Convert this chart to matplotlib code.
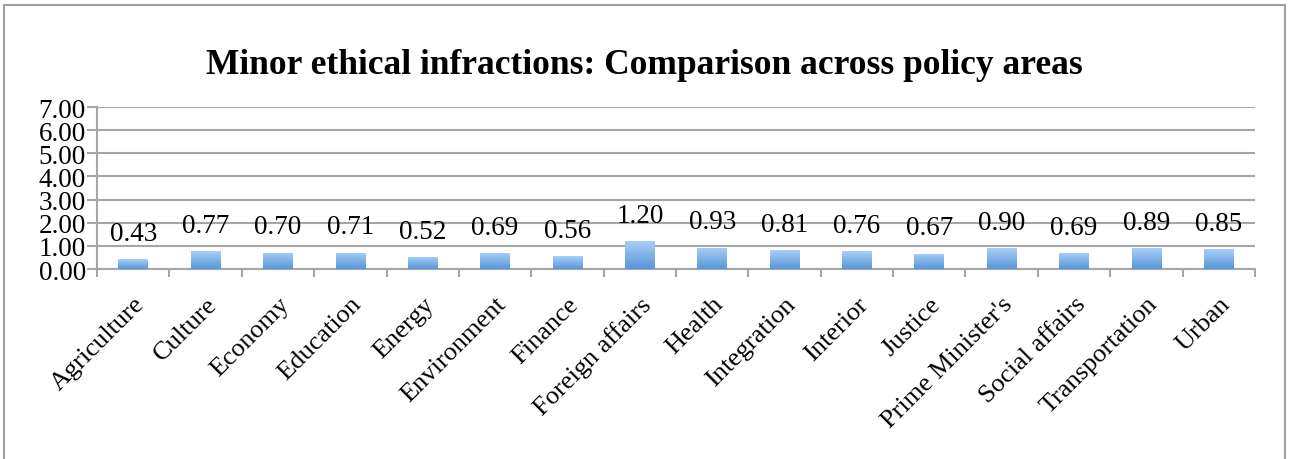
import numpy as np
import matplotlib.pyplot as plt
from matplotlib.patches import Rectangle
from matplotlib.colors import LinearSegmentedColormap

categories = ['Agriculture', 'Culture', 'Economy', 'Education', 'Energy',
              'Environment', 'Finance', 'Foreign affairs', 'Health', 'Integration',
              'Interior', 'Justice', "Prime Minister's", 'Social affairs',
              'Transportation', 'Urban']
values = [0.43, 0.77, 0.70, 0.71, 0.52, 0.69, 0.56, 1.20, 0.93, 0.81,
          0.76, 0.67, 0.90, 0.69, 0.89, 0.85]
yticks = [0, 1, 2, 3, 4, 5, 6, 7]

plt.rcParams['font.family'] = ['Liberation Serif', 'DejaVu Serif']
grid_col = '#a6a6a6'

fig = plt.figure(figsize=(12.89, 4.6), dpi=100)
ax = fig.add_axes([0.0753, 0.413, 0.8983, 0.352])

x = np.arange(len(categories))
bars = ax.bar(x, values, width=0.41, color='none', edgecolor='none', zorder=3)

# vertical gradient (light on top, darker below) inside each bar
grad = np.linspace(0, 1, 64).reshape(-1, 1)
cmap = LinearSegmentedColormap.from_list('bar', ['#5797d8', '#a9cef7'])
for b in bars:
    bx, by = b.get_x(), b.get_y()
    w, h = b.get_width(), b.get_height()
    im = ax.imshow(grad, extent=[bx, bx + w, by, by + h], origin='lower',
                   cmap=cmap, aspect='auto', zorder=3)
    im.set_clip_path(b)

for xi, v in zip(x, values):
    ax.annotate(f'{v:.2f}', (xi, v), xytext=(0, 14), textcoords='offset points',
                ha='center', va='baseline', fontsize=19.5)

ax.set_xlim(-0.5, len(categories) - 0.5)
ax.set_ylim(0, 7)
ax.set_yticks(yticks)
ax.set_yticklabels([f'{t:.2f}' for t in yticks], fontsize=19.5)
ax.yaxis.grid(True, color=grid_col, lw=1.5)
ax.set_axisbelow(True)

ax.set_xticks(x)
ax.set_xticklabels(categories, rotation=45, ha='right', rotation_mode='anchor',
                   fontsize=19)
ax.tick_params(axis='x', length=0, pad=17)
ax.set_xticks(np.arange(len(categories) + 1) - 0.5, minor=True)
ax.tick_params(axis='x', which='minor', length=6, width=1.5, color=grid_col)
ax.tick_params(axis='y', length=7, width=1.5, color=grid_col, pad=1)

for s in ['top', 'right']:
    ax.spines[s].set_visible(False)
for s in ['left', 'bottom']:
    ax.spines[s].set_color(grid_col)
    ax.spines[s].set_linewidth(1.5)

fig.text(0.5, 0.858, 'Minor ethical infractions: Comparison across policy areas',
         ha='center', va='center', fontsize=25.5, fontweight='bold')

fig.patches.append(Rectangle((0.003, -0.01), 0.994, 0.997, transform=fig.transFigure,
                             fill=False, edgecolor='#a0a0a0', lw=1.5))

fig.savefig('out.png', dpi=100)
